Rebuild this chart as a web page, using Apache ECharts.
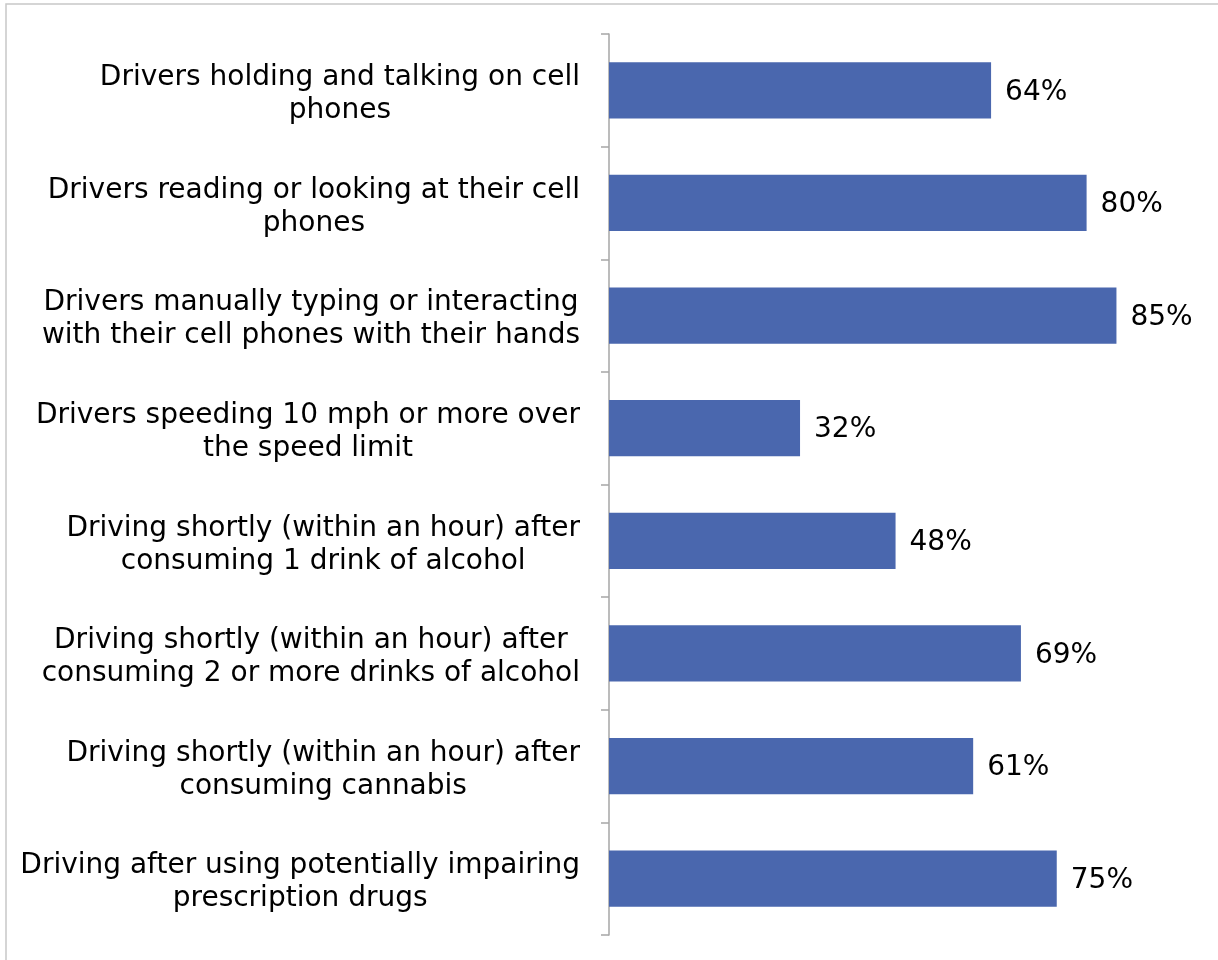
<!DOCTYPE html>
<html>
<head>
<meta charset="utf-8">
<script src="https://cdn.jsdelivr.net/npm/echarts@6/dist/echarts.min.js"></script>
<style>
  html, body { margin: 0; padding: 0; background: #fff; }
  #myChart { width: 1218px; height: 960px; }
</style>
</head>
<body>
<div id="myChart"></div>
<script>
// 类别（上 -> 下）
const categories = [
  'Drivers holding and talking on cell\nphones',
  'Drivers reading or looking at their cell\nphones',
  'Drivers manually typing or interacting\nwith their cell phones with their hands',
  'Drivers speeding 10 mph or more over\nthe speed limit',
  'Driving shortly (within an hour) after\nconsuming 1 drink of alcohol',
  'Driving shortly (within an hour) after\nconsuming 2 or more drinks of alcohol',
  'Driving shortly (within an hour) after\nconsuming cannabis',
  'Driving after using potentially impairing\nprescription drugs'
];
const percentValues = [64, 80, 85, 32, 48, 69, 61, 75];

const font = '"DejaVu Sans", sans-serif';

let myChart = echarts.init(document.getElementById('myChart'));
myChart.setOption({
  backgroundColor: '#fff',
  animation: false,
  graphic: [{
    type: 'rect',
    shape: { x: 6, y: 4, width: 1300, height: 1100 },
    style: { fill: 'none', stroke: '#c8c8c8', lineWidth: 1.5 },
    silent: true
  }],
  grid: {
    top: 34,
    bottom: 25,
    left: 609,
    right: 12,
    containLabel: false
  },
  xAxis: {
    type: 'value',
    min: 0,
    max: 100,
    show: false
  },
  yAxis: {
    type: 'category',
    inverse: true,
    data: categories,
    axisLine: { show: true, lineStyle: { color: '#a6a6a6', width: 1.5 } },
    axisTick: { show: true, length: 8, lineStyle: { color: '#a6a6a6', width: 1.5 } },
    axisLabel: {
      margin: 29,
      align: 'right',
      padding: [8, 0, 0, 0],
      // 每行居中，整体靠右
      formatter: function (val) {
        return val.split('\n').map(s => '{c|' + s + '}').join('\n');
      },
      rich: {
        c: {
          align: 'center',
          color: '#000',
          fontFamily: font,
          fontSize: 28,
          lineHeight: 33
        }
      }
    }
  },
  series: [{
    type: 'bar',
    data: percentValues,
    barWidth: '50%',
    itemStyle: { color: '#4a67ae' },
    label: {
      show: true,
      position: 'right',
      distance: 14,
      offset: [0, 2],
      formatter: '{c}%',
      color: '#000',
      fontFamily: font,
      fontSize: 28
    }
  }]
});
</script>
</body>
</html>
